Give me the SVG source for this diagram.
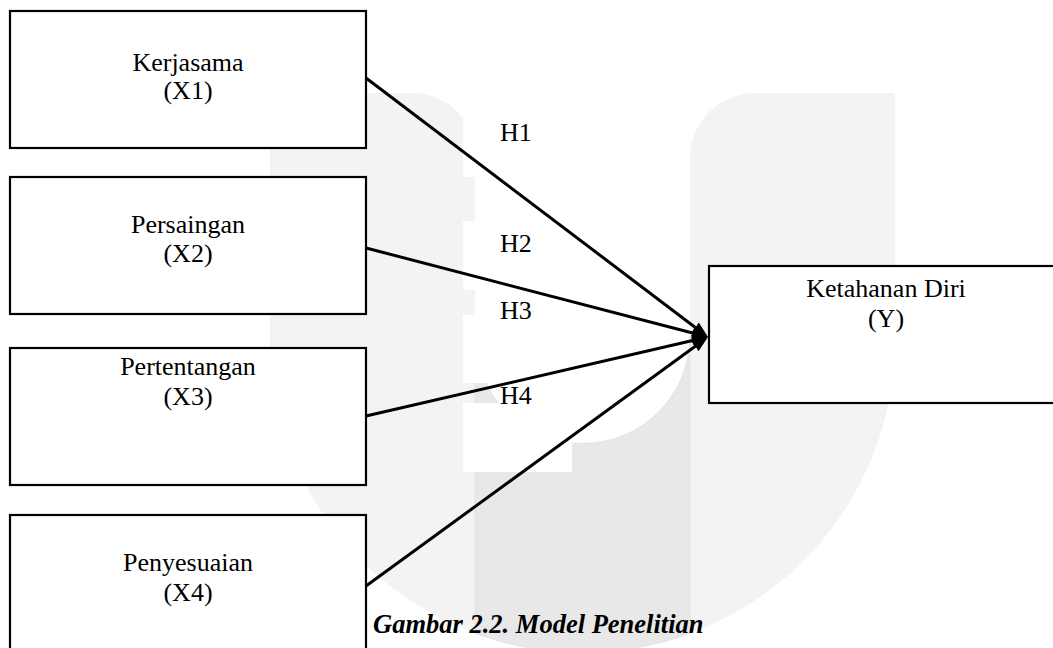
<svg xmlns="http://www.w3.org/2000/svg" width="1053" height="648" viewBox="0 0 1053 648">
  <style>
    .box { fill: #ffffff; stroke: #000000; stroke-width: 2.2; }
    .lbl { font-family: "Liberation Serif", "Times New Roman", serif; font-size: 26px; fill: #000000; }
    .mid { text-anchor: middle; }
    .conn { stroke: #000000; stroke-width: 3; fill: none; marker-end: url(#arrow); }
    .cap { font-family: "Liberation Serif", "Times New Roman", serif; font-size: 26.5px; font-weight: bold; font-style: italic; fill: #000000; }
    .wm { fill: #f3f3f3; stroke: none; }
    .wm2 { fill: #e8e8e8; stroke: #e0e0e0; stroke-width: 0.8; }
    .lblbg { fill: #ffffff; stroke: none; }
  </style>
  <defs>
    <marker id="arrow" viewBox="0 0 16 12" refX="8" refY="6" markerWidth="16" markerHeight="12" markerUnits="userSpaceOnUse" orient="auto">
      <path d="M0,0 L16,6 L0,12 Z" fill="#000000"/>
    </marker>
  </defs>
  <rect x="0" y="0" width="1053" height="648" fill="#ffffff"/>

  <g id="watermark">
    <path class="wm" d="M270,93 L413,93 A62,62 0 0 1 475,155 L475,336 A107.5,107.5 0 0 0 690,336 L690,158 A65,65 0 0 1 755,93 L895,93 L895,340 A312.5,312.5 0 0 1 270,340 Z"/>
    <path class="wm2" d="M475,336 A107.5,107.5 0 0 0 690,336 L690,633.4 A312.5,312.5 0 0 1 475,633.4 Z"/>
  </g>

  <g id="label-backgrounds">
    <rect class="lblbg" x="463" y="90" width="109" height="87"/>
    <rect class="lblbg" x="463" y="221" width="109" height="69"/>
    <rect class="lblbg" x="463" y="315" width="109" height="68"/>
    <rect class="lblbg" x="463" y="403" width="109" height="69"/>
  </g>

  <g id="x1">
    <rect class="box" x="10" y="11" width="356" height="137"/>
    <text class="lbl mid" x="188" y="71">Kerjasama</text>
    <text class="lbl mid" x="188" y="99">(X1)</text>
  </g>
  <g id="x2">
    <rect class="box" x="10" y="177" width="356" height="137"/>
    <text class="lbl mid" x="188" y="233">Persaingan</text>
    <text class="lbl mid" x="188" y="262">(X2)</text>
  </g>
  <g id="x3">
    <rect class="box" x="10" y="348" width="356" height="137"/>
    <text class="lbl mid" x="188" y="375">Pertentangan</text>
    <text class="lbl mid" x="188" y="405">(X3)</text>
  </g>
  <g id="x4">
    <rect class="box" x="10" y="515" width="356" height="200"/>
    <text class="lbl mid" x="188" y="571">Penyesuaian</text>
    <text class="lbl mid" x="188" y="601">(X4)</text>
  </g>
  <g id="y">
    <rect class="box" x="709" y="266" width="354" height="137"/>
    <text class="lbl mid" x="886" y="297">Ketahanan Diri</text>
    <text class="lbl mid" x="886" y="327">(Y)</text>
  </g>

  <g id="connectors">
    <line class="conn" x1="366" y1="78" x2="701.6" y2="332.2"/>
    <line class="conn" x1="366" y1="248" x2="700.3" y2="335.0"/>
    <line class="conn" x1="366" y1="416" x2="700.2" y2="338.8"/>
    <line class="conn" x1="366" y1="586" x2="701.5" y2="341.7"/>
  </g>

  <g id="hypothesis-labels">
    <text class="lbl" x="500" y="141">H1</text>
    <text class="lbl" x="500" y="252">H2</text>
    <text class="lbl" x="500" y="319">H3</text>
    <text class="lbl" x="500" y="404">H4</text>
  </g>

  <g id="caption">
    <text class="cap" x="373" y="633">Gambar 2.2. Model Penelitian</text>
  </g>
</svg>
